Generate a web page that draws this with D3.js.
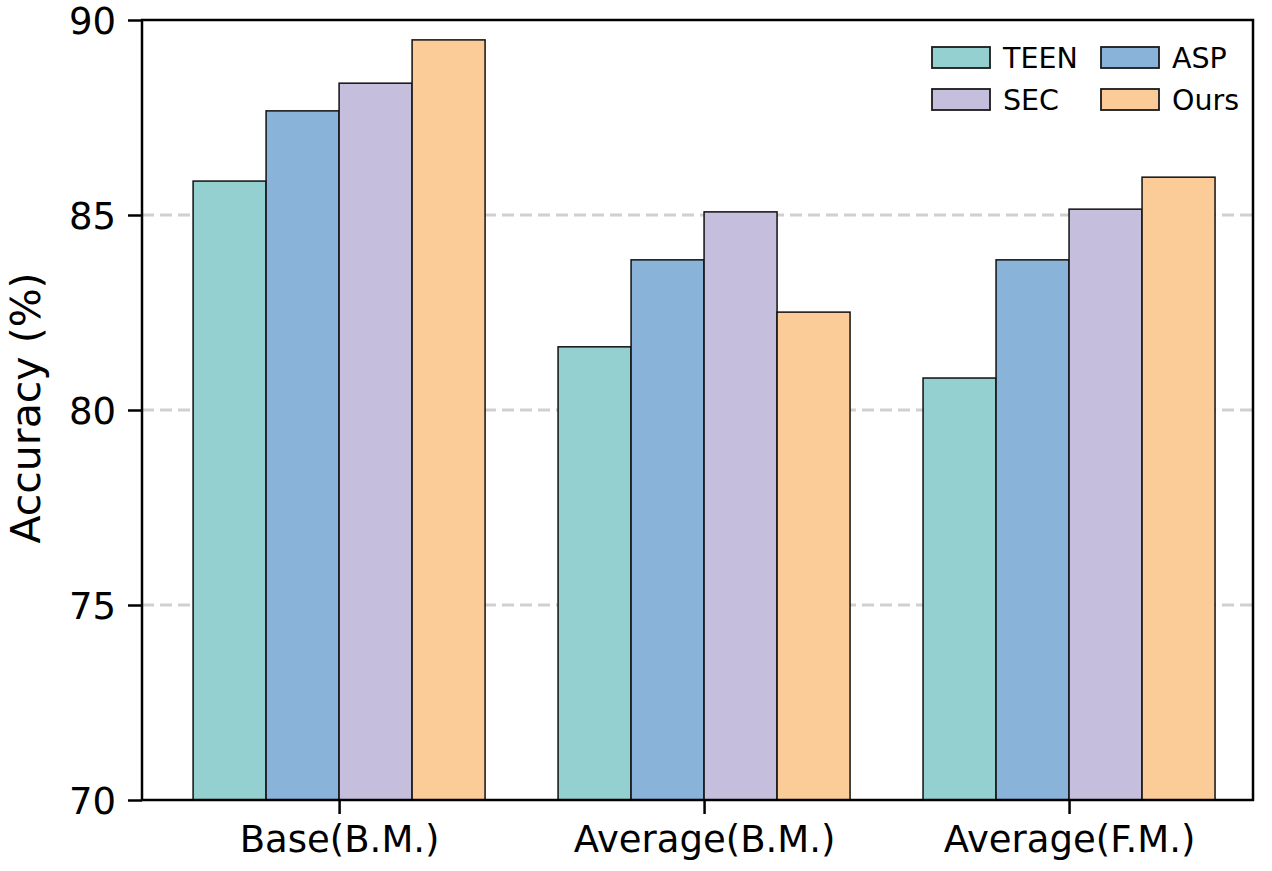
<!DOCTYPE html>
<html lang="en">
<head>
    <meta charset="UTF-8">
    <title>Accuracy bars</title>
    <script src="https://d3js.org/d3.v7.min.js" charset="utf-8"></script>
    <style>
        body { margin: 0; background: #fff; }
        text { font-family: "DejaVu Sans", sans-serif; fill: #000; }
    </style>
</head>
<body>
    <div id="vis"></div>
    <script>

        var categories = ["Base(B.M.)", "Average(B.M.)", "Average(F.M.)"];
        var methods = ["TEEN", "ASP", "SEC", "Ours"];
        var teen = [85.87, 81.62, 80.82];
        var asp = [87.67, 83.85, 83.85];
        var sec = [88.38, 85.08, 85.15];
        var ours = [89.49, 82.51, 85.97];
        var yTicks = [70, 75, 80, 85, 90];

        var series = [teen, asp, sec, ours];
        var colors = ["#95d0d0", "#8ab3d9", "#c5bedd", "#fbcc98"];

        var width = 1272, height = 871;
        var margin = { top: 20, left: 142, right: 19, bottom: 71 };

        var svg = d3.select("#vis")
            .append("svg")
            .attr("width", width)
            .attr("height", height);

        var w = width - margin.left - margin.right;
        var h = height - margin.top - margin.bottom;

        var g = svg.append("g")
            .attr("transform", "translate(" + margin.left + "," + margin.top + ")");

        // group positions 0,1,2 like matplotlib
        var x = d3.scaleLinear().domain([-0.54, 2.504]).range([0, w]);
        var y = d3.scaleLinear().domain([70, 90]).range([h, 0]);
        var barW = 0.2;

        // grid
        g.selectAll(".grid")
            .data([75, 80, 85])
            .enter().append("line")
            .attr("x1", 0).attr("x2", w)
            .attr("y1", function(d) { return y(d); })
            .attr("y2", function(d) { return y(d); })
            .attr("stroke", "#d0d0d0")
            .attr("stroke-width", 3)
            .attr("stroke-dasharray", "12,6");

        // bars
        series.forEach(function(vals, si) {
            g.selectAll(".bar" + si)
                .data(vals)
                .enter().append("rect")
                .attr("x", function(d, i) { return x(i + (si - 2) * barW); })
                .attr("width", x(barW) - x(0))
                .attr("y", function(d) { return y(d); })
                .attr("height", function(d) { return h - y(d); })
                .attr("fill", colors[si])
                .attr("stroke", "#111")
                .attr("stroke-width", 1.5);
        });

        // axes
        var yAxis = d3.axisLeft(y).tickValues(yTicks).tickSize(14).tickPadding(12);
        var xAxis = d3.axisBottom(x).tickValues([0, 1, 2])
            .tickFormat(function(d) { return categories[d]; })
            .tickSize(14).tickPadding(3);

        var ya = g.append("g").call(yAxis);
        var xa = g.append("g").attr("transform", "translate(0," + h + ")").call(xAxis);
        [ya, xa].forEach(function(a) {
            a.select(".domain").remove();
            a.selectAll("line").attr("stroke", "#000").attr("stroke-width", 2.5);
            a.selectAll("text").style("font-size", "37px").style("font-family", "DejaVu Sans");
        });
        ya.selectAll("text").attr("dy", "0.36em");
        xa.selectAll("text").attr("dy", "0.95em");

        // frame
        g.append("rect")
            .attr("x", 0).attr("y", 0).attr("width", w).attr("height", h)
            .attr("fill", "none").attr("stroke", "#000").attr("stroke-width", 2.5);

        // y label
        svg.append("text")
            .attr("transform", "translate(40," + (margin.top + h / 2 - 2) + ") rotate(-90)")
            .attr("text-anchor", "middle")
            .style("font-size", "41px")
            .text("Accuracy (%)");

        // legend
        var leg = svg.append("g").attr("transform", "translate(932,47)");
        methods.forEach(function(m, i) {
            var col = i % 2, row = Math.floor(i / 2);
            var item = leg.append("g")
                .attr("transform", "translate(" + (col * 169) + "," + (row * 42) + ")");
            item.append("rect")
                .attr("width", 58).attr("height", 21)
                .attr("fill", colors[i]).attr("stroke", "#1a1a1a").attr("stroke-width", 1.8);
            item.append("text")
                .attr("x", 71).attr("y", 10.5).attr("dy", "0.36em")
                .style("font-size", "28.5px")
                .text(m);
        });

    </script>
</body>
</html>
